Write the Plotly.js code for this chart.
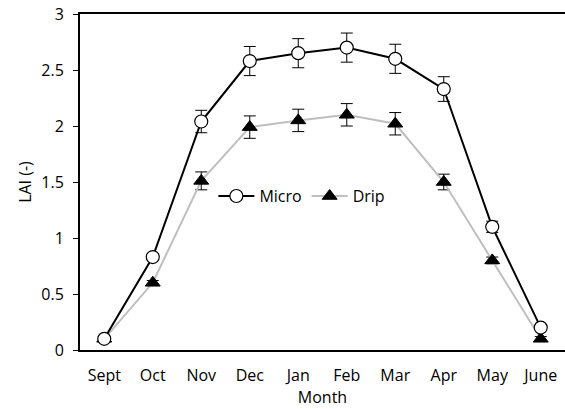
<!DOCTYPE html>
<html><head><meta charset="utf-8">
<script src="https://cdn.plot.ly/plotly-3.0.1.min.js"></script>
<style>html,body{margin:0;padding:0;background:#fff}#chart{width:565px;height:409px}</style>
</head><body><div id="chart"></div>
<script>
var months = ["Sept","Oct","Nov","Dec","Jan","Feb","Mar","Apr","May","June"];
var microLAI = [0.10, 0.83, 2.04, 2.58, 2.65, 2.70, 2.60, 2.33, 1.10, 0.20];
var microErr = [0.02, 0.02, 0.10, 0.13, 0.13, 0.13, 0.13, 0.11, 0.05, 0.02];
var dripLAI = [0.10, 0.60, 1.51, 1.99, 2.05, 2.10, 2.02, 1.50, 0.80, 0.10];
var dripErr = [0.02, 0.02, 0.08, 0.10, 0.10, 0.10, 0.10, 0.07, 0.03, 0.02];

var fontFam = "Open Sans, Liberation Sans, sans-serif";
var traces = [
  {x: months, y: dripLAI, name: "Drip", type: "scatter", mode: "lines+markers",
   line: {color: "#bfbfbf", width: 2},
   marker: {symbol: "triangle-up", size: 13, color: "#000", line: {color: "#000", width: 1}},
   error_y: {type: "data", array: dripErr, visible: true, color: "#000", thickness: 1, width: 6}},
  {x: months, y: microLAI, name: "Micro", type: "scatter", mode: "lines+markers",
   line: {color: "#000", width: 2},
   marker: {symbol: "circle", size: 13, color: "#fff", line: {color: "#000", width: 1.2}},
   error_y: {type: "data", array: microErr, visible: true, color: "#000", thickness: 1, width: 6}}
];
var layout = {
  width: 565, height: 409,
  margin: {l: 80, r: 0, t: 14, b: 59},
  paper_bgcolor: "#fff", plot_bgcolor: "#fff",
  font: {family: fontFam, size: 16, color: "#000"},
  showlegend: true,
  legend: {orientation: "h", x: 0.275, y: 0.458, xanchor: "left", yanchor: "middle",
           traceorder: "reversed", font: {size: 16}, bgcolor: "rgba(0,0,0,0)", itemwidth: 36},
  xaxis: {type: "category", range: [-0.5, 9.5], showgrid: false, zeroline: false,
          showline: true, linecolor: "#000", linewidth: 2, mirror: true, ticks: "",
          ticklabelstandoff: 10,
          tickfont: {size: 16}, title: {text: "Month", font: {size: 16}, standoff: 5}},
  yaxis: {range: [0, 3], dtick: 0.5, showgrid: false, zeroline: false,
          showline: true, linecolor: "#000", linewidth: 2, ticks: "outside", ticklen: 5,
          tickcolor: "#000", tickfont: {size: 16}, ticklabelstandoff: 6,
          title: {text: "LAI (-)", font: {size: 16}, standoff: 6}}
};
Plotly.newPlot("chart", traces, layout, {displayModeBar: false, staticPlot: true});
</script></body></html>
